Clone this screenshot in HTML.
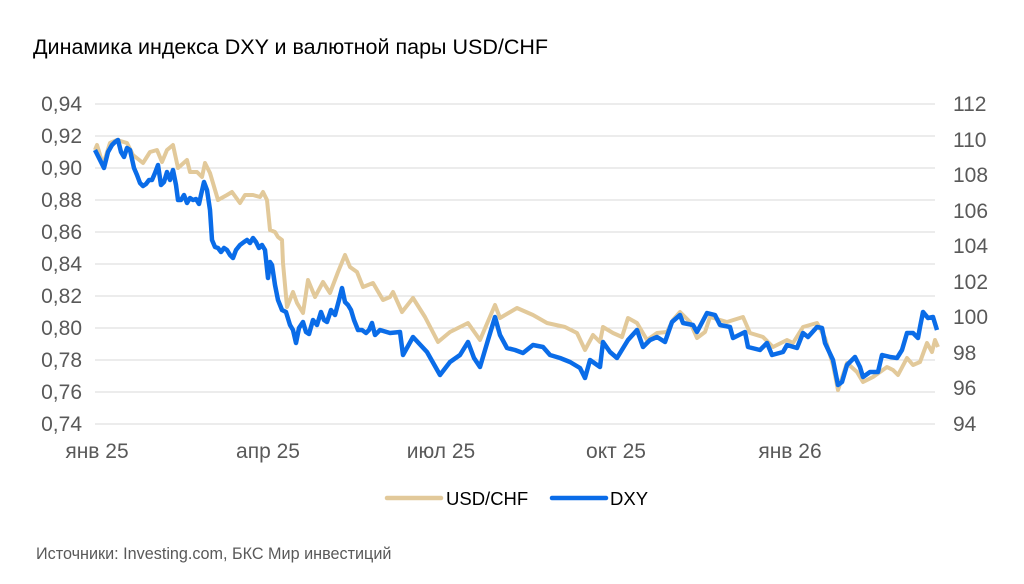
<!DOCTYPE html>
<html><head><meta charset="utf-8"><style>
body{margin:0;background:#fff;width:1024px;height:579px;overflow:hidden;font-family:"Liberation Sans",sans-serif}
</style></head><body>
<svg width="1024" height="579" xmlns="http://www.w3.org/2000/svg" font-family="Liberation Sans, sans-serif">
<text x="33" y="54" font-size="21.5" fill="#000">Динамика индекса DXY и валютной пары USD/CHF</text>
<g stroke="#d9d9d9" stroke-width="1">
<line x1="95" x2="935" y1="104" y2="104"/><line x1="95" x2="935" y1="136" y2="136"/><line x1="95" x2="935" y1="168" y2="168"/><line x1="95" x2="935" y1="200" y2="200"/><line x1="95" x2="935" y1="232" y2="232"/><line x1="95" x2="935" y1="264" y2="264"/><line x1="95" x2="935" y1="296" y2="296"/><line x1="95" x2="935" y1="328" y2="328"/><line x1="95" x2="935" y1="360" y2="360"/><line x1="95" x2="935" y1="392" y2="392"/><line x1="95" x2="935" y1="424" y2="424"/>
</g>
<g font-size="21" fill="#595959" text-anchor="end">
<text x="82" y="111">0,94</text><text x="82" y="143">0,92</text><text x="82" y="175">0,90</text><text x="82" y="207">0,88</text><text x="82" y="239">0,86</text><text x="82" y="271">0,84</text><text x="82" y="303">0,82</text><text x="82" y="335">0,80</text><text x="82" y="367">0,78</text><text x="82" y="399">0,76</text><text x="82" y="431">0,74</text>
</g>
<g font-size="21" fill="#595959">
<text x="953" y="111">112</text><text x="953" y="147">110</text><text x="953" y="182">108</text><text x="953" y="218">106</text><text x="953" y="253">104</text><text x="953" y="289">102</text><text x="953" y="324">100</text><text x="953" y="360">98</text><text x="953" y="395">96</text><text x="953" y="431">94</text>
</g>
<g font-size="21" fill="#595959" text-anchor="middle">
<text x="97" y="458">янв 25</text><text x="268" y="458">апр 25</text><text x="441" y="458">июл 25</text><text x="616" y="458">окт 25</text><text x="790" y="458">янв 26</text>
</g>
<polyline fill="none" stroke="#e2c99a" stroke-width="4" stroke-linejoin="round" points="95,150 97,145 103,165 110,143 117,140 127,143 133,155 143,163 150,152 157,150 162,162 167,150 173,145 178,168 187,160 190,172 197,172 202,177 205,163 210,173 218,200 227,195 232,192 240,203 245,195 253,195 260,197 263,192 267,200 270,230 275,232 278,237 282,240 283,263 287,307 293,292 297,303 303,313 308,280 315,297 323,282 330,293 338,272 345,255 350,267 357,272 363,287 373,283 383,300 390,297 393,292 402,312 413,298 425,317 438,342 450,332 468,323 480,340 495,305 500,318 517,308 533,315 547,323 565,327 577,333 585,350 593,335 600,342 603,327 613,333 622,337 628,318 637,323 647,340 657,333 667,332 673,320 680,312 690,322 697,338 705,332 710,317 727,322 743,317 750,333 763,337 773,347 787,340 793,343 803,327 817,323 825,338 833,365 838,390 847,363 857,372 863,382 873,377 887,367 893,370 898,375 907,358 913,365 920,362 927,343 932,352 935,340 938,347"/>
<polyline fill="none" stroke="#0a6ce8" stroke-width="4.5" stroke-linejoin="round" points="95,150 100,160 104,168 108,152 112,145 115,142 118,140 121,152 124,157 127,148 130,150 134,168 137,175 140,183 143,186 146,184 149,180 152,180 155,173 158,165 161,185 164,182 167,172 170,180 173,170 176,185 178,200 181,200 184,195 187,203 190,198 193,200 196,199 199,204 201,195 204,182 207,190 210,210 212,240 215,247 218,248 221,252 224,248 227,250 230,255 233,258 236,250 240,245 244,242 247,240 250,243 253,238 256,242 259,248 262,245 265,250 268,278 270,262 272,265 275,285 278,300 282,310 286,312 290,325 293,330 296,343 299,328 303,322 306,332 309,334 313,320 317,325 321,312 324,320 327,322 331,310 335,315 339,300 342,288 345,302 348,305 351,310 354,320 358,330 362,330 366,333 369,330 372,323 375,335 380,330 390,333 400,332 403,355 413,337 427,352 440,375 450,362 460,355 468,342 474,358 480,367 488,340 495,317 500,335 507,348 515,350 523,353 533,345 543,347 550,355 560,358 570,362 580,368 585,378 590,360 600,367 603,342 610,352 617,358 628,340 637,330 643,347 650,340 657,337 665,342 672,322 680,315 683,323 693,325 697,332 707,313 715,315 720,325 730,327 733,338 745,332 748,347 760,350 767,343 772,355 783,352 787,345 797,348 803,333 808,337 817,327 822,328 825,343 833,360 838,385 842,382 847,365 852,360 855,357 860,367 863,377 870,372 878,372 882,355 890,357 897,358 902,350 907,333 913,333 918,338 920,327 923,312 928,318 933,317 937,330"/>
<line x1="387" x2="441" y1="498" y2="498" stroke="#e2c99a" stroke-width="4.5" stroke-linecap="round"/>
<text x="446" y="505" font-size="18.5" fill="#000">USD/CHF</text>
<line x1="552" x2="606" y1="498" y2="498" stroke="#0a6ce8" stroke-width="4.5" stroke-linecap="round"/>
<text x="610" y="505" font-size="18.5" fill="#000">DXY</text>
<text x="36" y="559" font-size="16.2" fill="#595959">Источники: Investing.com, БКС Мир инвестиций</text>
</svg>
</body></html>
